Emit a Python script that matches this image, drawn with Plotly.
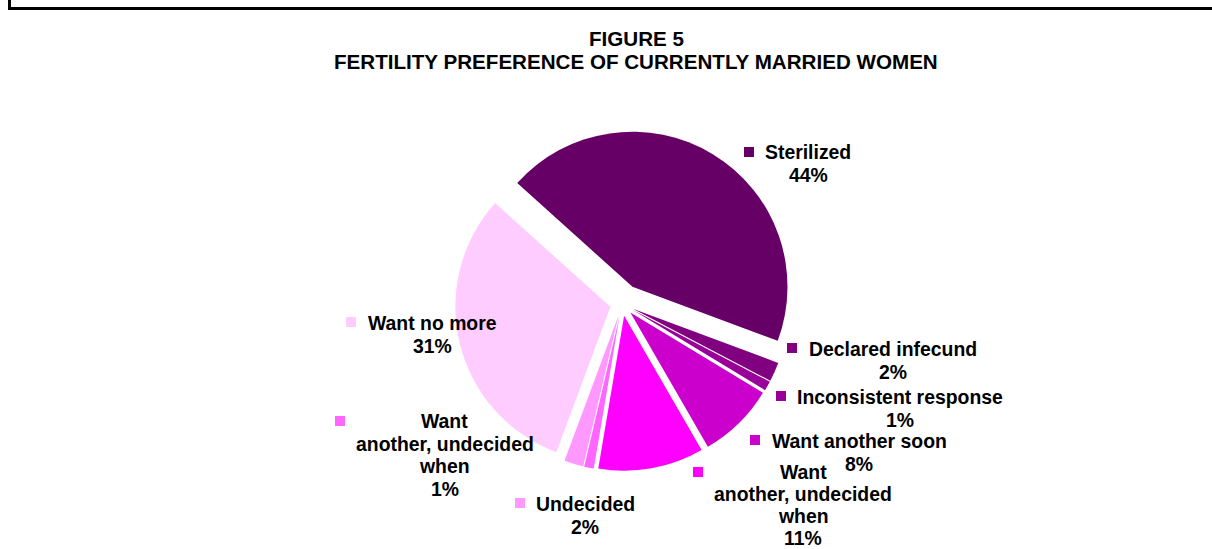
import plotly.graph_objects as go

# Fertility preference of currently married women (percent of women)
categories = [
    "Sterilized",
    "Declared infecund",
    "Inconsistent response",
    "Want another soon",
    "Want another, undecided when",
    "Want another, undecided when",
    "Undecided",
    "Want no more",
]
shares = [44, 2, 1, 8, 11, 1, 2, 31]
slice_colors = ["#660066", "#800080", "#990099", "#CC00CC",
                "#FF00FF", "#FF66FF", "#FF99FF", "#FFCCFF"]
slice_pull = [0.13, 0.077, 0.077, 0.077, 0.077, 0.077, 0.077, 0.077]

# wrapped label text for the long category names
wrapped = {4: ["Want", "another, undecided", "when"],
           5: ["Want", "another, undecided", "when"]}

# label placement in pixels: legend-key centre (kx, ky), text centre x,
# first line y, line spacing
label_pos = [
    (749, 152, 808, 152, 22.6),
    (792, 348, 893, 349, 22.6),
    (781, 396, 900, 397, 22.6),
    (755, 440, 859, 441, 22.6),
    (698, 472, 803, 472, 22.0),
    (340, 421, 445, 421, 22.6),
    (520, 503, 585, 504, 22.6),
    (351, 322, 432, 323, 22.6),
]

W, H = 1212, 549
FONT = "Liberation Sans, Arial, sans-serif"


def px(x):
    return x / W


def py(y):
    return 1 - y / H


fig = go.Figure()

fig.add_trace(go.Pie(
    labels=list(range(len(shares))),
    values=shares,
    customdata=categories,
    hovertemplate="%{customdata}: %{value}%<extra></extra>",
    sort=False,
    direction="clockwise",
    rotation=-48,
    pull=slice_pull,
    marker=dict(colors=slice_colors, line=dict(width=0)),
    textinfo="none",
    showlegend=False,
    domain=dict(x=[px(622 - 175.2), px(622 + 175.2)],
                y=[py(304 + 175.2), py(304 - 175.2)]),
))

annotations = []
shapes = []

# chart title
for text, y in (("FIGURE 5", 39), ("FERTILITY PREFERENCE OF CURRENTLY MARRIED WOMEN", 61)):
    annotations.append(dict(
        text=f"<b>{text}</b>", x=px(636), y=py(y), xref="paper", yref="paper",
        xanchor="center", yanchor="middle", showarrow=False,
        font=dict(family=FONT, size=20.6, color="#000000"),
    ))

# data labels with legend keys
for i, (name, val) in enumerate(zip(categories, shares)):
    kx, ky, cx, y0, step = label_pos[i]
    lines = wrapped.get(i, [name]) + [f"{val}%"]
    for j, line in enumerate(lines):
        annotations.append(dict(
            text=f"<b>{line}</b>", x=px(cx), y=py(y0 + j * step),
            xref="paper", yref="paper", xanchor="center", yanchor="middle",
            showarrow=False,
            font=dict(family=FONT, size=19.4, color="#000000"),
        ))
    shapes.append(dict(
        type="rect", xref="paper", yref="paper",
        x0=px(kx - 5), x1=px(kx + 5), y0=py(ky + 5), y1=py(ky - 5),
        fillcolor=slice_colors[i], line=dict(width=0),
    ))

# chart-area frame (top and left edges)
shapes.append(dict(
    type="path", xref="paper", yref="paper",
    path=f"M {px(9.5)},{py(-5)} L {px(9.5)},{py(8.5)} L {px(1220)},{py(8.5)}",
    line=dict(color="#000000", width=3),
))

fig.update_layout(
    width=W, height=H,
    margin=dict(l=0, r=0, t=0, b=0),
    paper_bgcolor="#FFFFFF",
    plot_bgcolor="#FFFFFF",
    annotations=annotations,
    shapes=shapes,
)

fig.write_html("out.html", include_plotlyjs=True, full_html=True,
               config={"displayModeBar": False})
